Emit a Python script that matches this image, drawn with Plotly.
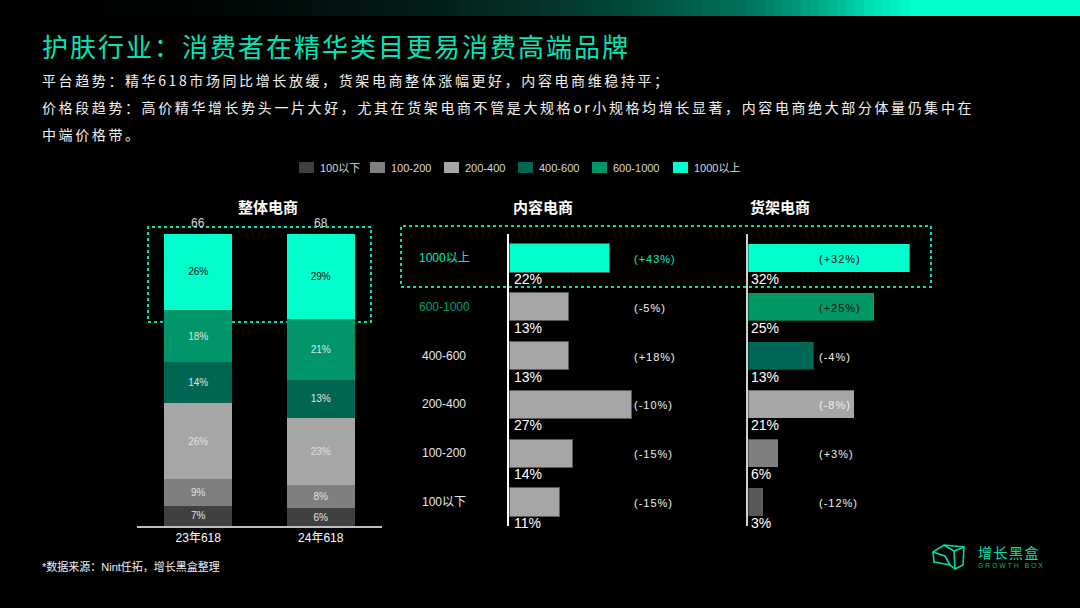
import plotly.graph_objects as go

W, H = 1080, 608
def px(x): return x / W
def py(y): return 1 - y / H

# ---------------- data ----------------
bands = ["100以下", "100-200", "200-400", "400-600", "600-1000", "1000以上"]
periods = ["23年618", "24年618"]
share_23 = [7, 9, 26, 14, 18, 26]
share_24 = [6, 8, 23, 13, 21, 29]
totals = [66, 68]

rows = ["1000以上", "600-1000", "400-600", "200-400", "100-200", "100以下"]
content_share = [22, 13, 13, 27, 14, 11]
content_change = ["+43%", "-5%", "+18%", "-10%", "-15%", "-15%"]
shelf_share = [32, 25, 13, 21, 6, 3]
shelf_change = ["+32%", "+25%", "-4%", "-8%", "+3%", "-12%"]

title = "护肤行业：消费者在精华类目更易消费高端品牌"
sub_lines = [
    "平台趋势：精华618市场同比增长放缓，货架电商整体涨幅更好，内容电商维稳持平；",
    "价格段趋势：高价精华增长势头一片大好，尤其在货架电商不管是大规格or小规格均增长显著，内容电商绝大部分体量仍集中在",
    "中端价格带。",
]
panel_titles = ["整体电商", "内容电商", "货架电商"]
source = "*数据来源：Nint任拓，增长黑盒整理"

# ---------------- styles ----------------
CJK = "Noto Sans CJK SC"
FONT = "Liberation Sans, Noto Sans CJK SC, sans-serif"
band_colors = ["#404040", "#7f7f7f", "#a6a6a6", "#006652", "#00956a", "#00ffcc"]
content_colors = ["#00ffcc", "#a6a6a6", "#a6a6a6", "#a6a6a6", "#a6a6a6", "#a6a6a6"]
shelf_colors = ["#00ffcc", "#009966", "#006655", "#a6a6a6", "#7f7f7f", "#595959"]
row_label_colors = ["#00f0c0", "#00a070", "#e6e6e6", "#e6e6e6", "#e6e6e6", "#e6e6e6"]
content_chg_colors = ["#00f0c0", "#f0f0f0", "#f0f0f0", "#f0f0f0", "#f0f0f0", "#f0f0f0"]
shelf_chg_colors = ["#111111", "#111111", "#f0f0f0", "#f0f0f0", "#f0f0f0", "#f0f0f0"]
GREEN = "#00e6b8"

def ls(t, s):
    return f'<span style="letter-spacing:{s}px">{t}</span>'

fig = go.Figure()

# ---- left: stacked bars ----
for i, b in enumerate(bands):
    vals = [share_23[i], share_24[i]]
    fig.add_trace(go.Bar(
        x=periods, y=vals, name=b,
        marker=dict(color=band_colors[i], line=dict(width=0)),
        text=[f"{v}%" for v in vals],
        textposition="inside", insidetextanchor="middle", textangle=0,
        constraintext="none",
        textfont=dict(size=10, family=FONT,
                      color="#111111" if b == "1000以上" else "#e0e0e0"),
        width=0.555, xaxis="x", yaxis="y", hoverinfo="skip", showlegend=False))

# ---- middle: content e-commerce ----
fig.add_trace(go.Bar(
    y=rows, x=content_share, orientation="h",
    marker=dict(color=content_colors, line=dict(color="#5a5a5a", width=1)),
    width=0.575, xaxis="x2", yaxis="y2", hoverinfo="skip", showlegend=False))

# ---- right: shelf e-commerce ----
fig.add_trace(go.Bar(
    y=rows, x=shelf_share, orientation="h",
    marker=dict(color=shelf_colors, line=dict(color="rgba(0,0,0,0.35)", width=1)),
    width=0.575, xaxis="x3", yaxis="y3", hoverinfo="skip", showlegend=False))

ann = []
shapes = []

# top gradient band
stops = [(0.0, (0, 0, 0)), (0.2, (0, 5, 5)), (0.4, (3, 30, 26)), (0.5, (6, 50, 42)),
         (0.6, (0, 80, 64)), (0.69, (0, 115, 92)), (0.76, (0, 170, 135)),
         (0.81, (0, 225, 180)), (0.845, (0, 255, 204)), (1.0, (0, 255, 204))]
def grad(t):
    for (a, ca), (b, cb) in zip(stops[:-1], stops[1:]):
        if a <= t <= b:
            f = (t - a) / (b - a) if b > a else 0
            c = [round(ca[k] + (cb[k] - ca[k]) * f) for k in range(3)]
            return f"rgb({c[0]},{c[1]},{c[2]})"
    return "rgb(0,255,204)"
N = 120
for k in range(N):
    x0 = k * W / N
    x1 = (k + 1) * W / N + 0.6
    shapes.append(dict(type="rect", xref="paper", yref="paper", x0=px(x0), x1=px(min(x1, W)),
                       y0=py(16), y1=1, fillcolor=grad((k + 0.5) / N), line=dict(width=0),
                       layer="below"))

# title and subtitles
ann.append(dict(text=ls(title, 2), x=px(40), y=py(45), xref="paper", yref="paper",
                xanchor="left", yanchor="middle", showarrow=False,
                font=dict(size=26, color=GREEN, family=CJK)))
for j, line in enumerate(sub_lines):
    ann.append(dict(text=ls(line, 2.6), x=px(40), y=py(80 + 27 * j), xref="paper", yref="paper",
                    xanchor="left", yanchor="middle", showarrow=False,
                    font=dict(size=14, color="#f2f2f2", family=CJK)))

# legend (manual)
leg_x = [299, 370, 444, 518, 592, 673]
for i, b in enumerate(bands):
    shapes.append(dict(type="rect", xref="paper", yref="paper", x0=px(leg_x[i]), x1=px(leg_x[i] + 15),
                       y0=py(173), y1=py(162), fillcolor=band_colors[i], line=dict(width=0)))
    ann.append(dict(text=b, x=px(leg_x[i] + 19), y=py(167.5), xref="paper", yref="paper",
                    xanchor="left", yanchor="middle", showarrow=False,
                    font=dict(size=11, color="#d9d9d9", family=FONT)))

# panel titles
for t, xc in zip(panel_titles, [268, 543, 780]):
    ann.append(dict(text=f"<b>{t}</b>", x=px(xc), y=py(206), xref="paper", yref="paper",
                    xanchor="center", yanchor="middle", showarrow=False,
                    font=dict(size=15, color="#ffffff", family=CJK)))

# totals above stacked bars
for p, tot in zip(periods, totals):
    ann.append(dict(text=str(tot), x=p, y=100, xref="x", yref="y", yshift=11,
                    xanchor="center", yanchor="middle", showarrow=False,
                    font=dict(size=12, color="#d9d9d9", family=FONT)))

# row labels, value labels, change labels
for i, r in enumerate(rows):
    ann.append(dict(text=r, x=px(444), y=i, xref="paper", yref="y2",
                    xanchor="center", yanchor="middle", showarrow=False,
                    font=dict(size=12, color=row_label_colors[i], family=FONT)))
    ann.append(dict(text=f"{content_share[i]}%", x=0, y=i, xref="x2", yref="y2",
                    xanchor="left", yanchor="middle", xshift=3, yshift=-21, showarrow=False,
                    font=dict(size=14, color="#ffffff", family=FONT)))
    ann.append(dict(text=ls(f"({content_change[i]})", 1), x=px(632), y=i, xref="paper", yref="y2",
                    xanchor="left", yanchor="middle", showarrow=False, yshift=-1,
                    font=dict(size=11, color=content_chg_colors[i], family=FONT)))
    ann.append(dict(text=f"{shelf_share[i]}%", x=0, y=i, xref="x3", yref="y3",
                    xanchor="left", yanchor="middle", xshift=1, yshift=-21, showarrow=False,
                    font=dict(size=14, color="#ffffff", family=FONT)))
    ann.append(dict(text=ls(f"({shelf_change[i]})", 1), x=px(817), y=i, xref="paper", yref="y3",
                    xanchor="left", yanchor="middle", showarrow=False, yshift=-1,
                    font=dict(size=11, color=shelf_chg_colors[i], family=FONT)))

# dotted highlight rectangles
shapes.append(dict(type="rect", xref="paper", yref="paper", x0=px(148), x1=px(371),
                   y0=py(322), y1=py(227), line=dict(color="#00e0b0", width=2, dash="dot"),
                   layer="below"))
shapes.append(dict(type="rect", xref="paper", yref="paper", x0=px(401), x1=px(931),
                   y0=py(287), y1=py(226), line=dict(color="#00e0b0", width=2, dash="dot"),
                   layer="above"))

# source note
ann.append(dict(text=source, x=px(40), y=py(566), xref="paper", yref="paper",
                xanchor="left", yanchor="middle", showarrow=False,
                font=dict(size=11, color="#f0f0f0", family=FONT)))

# logo
def path(pts, close=False):
    s = "M " + " L ".join(f"{px(x):.5f},{py(y):.5f}" for x, y in pts)
    return s + (" Z" if close else "")
logo_line = dict(color="#00d8a8", width=1.6)
shapes.append(dict(type="path", xref="paper", yref="paper",
                   path=path([(933, 552), (944, 545), (964, 547), (963, 565), (955, 569),
                              (950, 565), (934, 562)], close=True), line=logo_line))
shapes.append(dict(type="path", xref="paper", yref="paper",
                   path=path([(944, 545), (954, 551), (964, 547)]), line=logo_line))
shapes.append(dict(type="path", xref="paper", yref="paper",
                   path=path([(954, 551), (955, 569)]), line=logo_line))
shapes.append(dict(type="path", xref="paper", yref="paper",
                   path=path([(933, 552), (945, 556), (950, 565)]), line=logo_line))
ann.append(dict(text=ls("增长黑盒", 1.5), x=px(976), y=py(552), xref="paper", yref="paper",
                xanchor="left", yanchor="middle", showarrow=False,
                font=dict(size=14, color="#00e0b0", family=CJK)))
ann.append(dict(text=ls("GROWTH BOX", 2.2), x=px(976), y=py(565), xref="paper", yref="paper",
                xanchor="left", yanchor="middle", showarrow=False,
                font=dict(size=6.5, color="#00b890", family=FONT)))

fig.update_layout(
    width=W, height=608, margin=dict(l=0, r=0, t=0, b=0),
    paper_bgcolor="#000000", plot_bgcolor="rgba(0,0,0,0)",
    barmode="stack", showlegend=False,
    font=dict(family=FONT, color="#ffffff"),
    xaxis=dict(domain=[px(137), px(382)], range=[-0.5, 1.5], showline=True,
               linecolor="#bfbfbf", linewidth=2, showgrid=False, zeroline=False, ticks="",
               tickfont=dict(size=12, color="#ffffff", family=FONT), anchor="y"),
    yaxis=dict(domain=[py(526), py(234)], range=[0, 100], visible=False, anchor="x"),
    xaxis2=dict(domain=[px(509), px(700)], range=[0, 191 / 4.55], visible=False, anchor="y2"),
    yaxis2=dict(domain=[py(526.4), py(233.6)], range=[5.5, -0.5], showline=True,
                linecolor="#ffffff", linewidth=1.5, showticklabels=False, showgrid=False,
                zeroline=False, ticks="", anchor="x2"),
    xaxis3=dict(domain=[px(748), px(960)], range=[0, 212 / 5.05], visible=False, anchor="y3"),
    yaxis3=dict(domain=[py(526.4), py(233.6)], range=[5.5, -0.5], showline=True,
                linecolor="#d0d0d0", linewidth=1.5, showticklabels=False, showgrid=False,
                zeroline=False, ticks="", anchor="x3"),
    annotations=ann, shapes=shapes,
)

fig.write_html("out.html")
